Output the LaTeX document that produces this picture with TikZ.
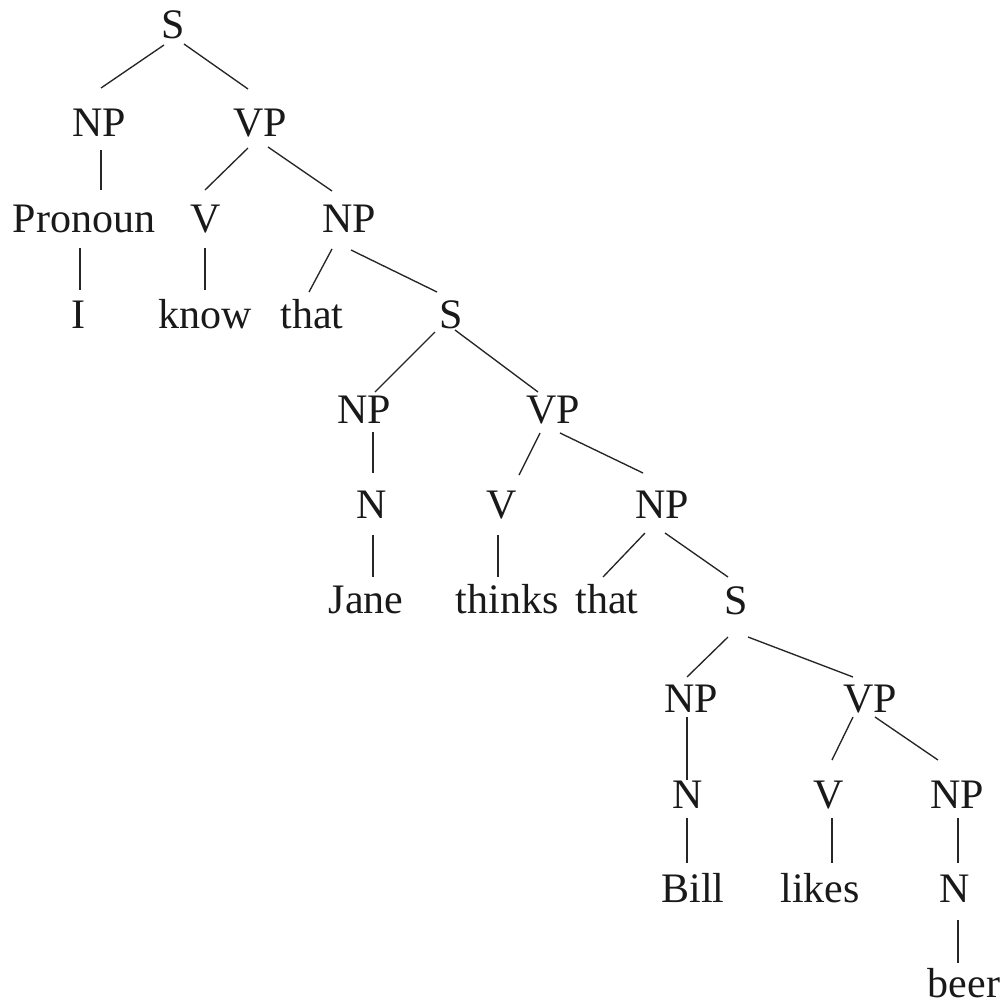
\documentclass[tikz,border=0pt]{standalone}
\usepackage{fontspec}
\setmainfont{Liberation Serif}
\begin{document}
\begin{tikzpicture}[x=1pt,y=-1pt,
  lab/.style={anchor=base,inner sep=0pt,font=\fontsize{42}{42}\selectfont,text=black!90},
  br/.style={line width=1.35pt,black!85}]
\useasboundingbox (0,0) rectangle (1002,1005);
\newcommand{\edg}[4]{\draw[br] ([shift={(#2)}]#1.base) -- ([shift={(#4)}]#3.base);}
% level 0
\node[lab] (s0) at (173,38) {S};
% level 1
\node[lab] (np1) at (99,136) {NP};
\node[lab] (vp1) at (260,136) {VP};
% level 2
\node[lab] (pron) at (84,232) {Pronoun};
\node[lab] (v1) at (206,232) {V};
\node[lab] (np2) at (349,232) {NP};
% level 3
\node[lab] (i) at (78,328) {I};
\node[lab] (know) at (205,328) {know};
\node[lab] (that1) at (312,328) {that};
\node[lab] (s1) at (451,328) {S};
% level 4
\node[lab] (np3) at (364,423) {NP};
\node[lab] (vp3) at (553,423) {VP};
% level 5
\node[lab] (n3) at (372,518) {N};
\node[lab] (v3) at (502,518) {V};
\node[lab] (np4) at (662,518) {NP};
% level 6
\node[lab] (jane) at (366,613) {Jane};
\node[lab] (thinks) at (507,613) {thinks};
\node[lab] (that2) at (607,613) {that};
\node[lab] (s2) at (736,614) {S};
% level 7
\node[lab] (np5) at (691,712) {NP};
\node[lab] (vp5) at (870,712) {VP};
% level 8
\node[lab] (n5) at (688,808) {N};
\node[lab] (v5) at (829,808) {V};
\node[lab] (np6) at (957,808) {NP};
% level 9
\node[lab] (bill) at (693,902) {Bill};
\node[lab] (likes) at (820,902) {likes};
\node[lab] (n6) at (955,902) {N};
% level 10
\node[lab] (beer) at (964,997) {beer};
% branches
\edg{s0}{-9,7}{np1}{2,-48}
\edg{s0}{11,6}{vp1}{-12,-47}
\edg{np1}{2,14}{pron}{17,-42}
\edg{vp1}{-12,12}{v1}{-1,-42}
\edg{vp1}{8,11}{np2}{-17,-41}
\edg{pron}{-4,16}{i}{2,-38}
\edg{v1}{-1,16}{know}{0,-38}
\edg{np2}{-17,17}{that1}{-3,-36}
\edg{np2}{2,18}{s1}{-14,-36}
\edg{s1}{-16,4}{np3}{11,-31}
\edg{s1}{4,2}{vp3}{-15,-31}
\edg{np3}{9,9}{n3}{1,-45}
\edg{vp3}{-13,10}{v3}{17,-43}
\edg{vp3}{7,10}{np4}{-19,-45}
\edg{n3}{1,17}{jane}{7,-36}
\edg{v3}{-4,17}{thinks}{-9,-36}
\edg{np4}{-17,15}{that2}{-4,-36}
\edg{np4}{3,15}{s2}{-8,-37}
\edg{s2}{-8,23}{np5}{-4,-35}
\edg{s2}{12,23}{vp5}{-17,-35}
\edg{np5}{-4,5}{n5}{-1,-28}
\edg{vp5}{-17,5}{v5}{3,-48}
\edg{vp5}{5,5}{np6}{-19,-48}
\edg{n5}{-1,10}{bill}{-6,-39}
\edg{v5}{3,10}{likes}{12,-39}
\edg{np6}{1,10}{n6}{3,-39}
\edg{n6}{3,18}{beer}{-6,-34}
\end{tikzpicture}
\end{document}
